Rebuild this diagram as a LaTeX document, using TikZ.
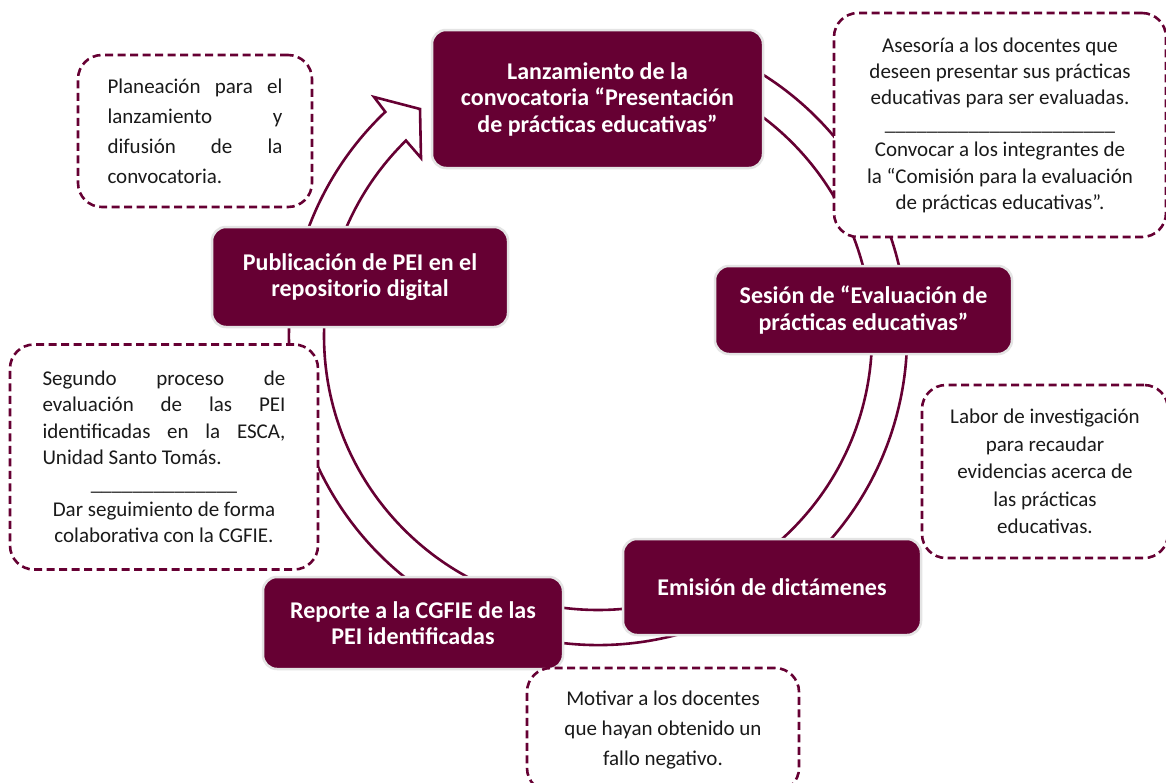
\documentclass[tikz,border=0pt]{standalone}
\usepackage{fontspec}
\setmainfont{Carlito}
\definecolor{maroon}{HTML}{660033}
\definecolor{boxedge}{HTML}{E4E4E4}
\definecolor{ink}{HTML}{1A1A1A}
\begin{document}
\begin{tikzpicture}[x=1pt,y=-1pt]
\tikzset{
  stage/.style={rectangle, rounded corners=14pt, fill=maroon, draw=boxedge, line width=2.5pt,
    text=white, font=\bfseries\fontsize{24}{26.5}\selectfont, align=center, inner sep=0pt},
  note/.style={rectangle, rounded corners=24pt, fill=white, draw=maroon, line width=2.6pt,
    dash pattern=on 8pt off 4.5pt, text=ink, inner sep=0pt},
  ringline/.style={fill=white, draw=maroon, line width=2.6pt, line join=miter},
}
\useasboundingbox (0,0) rectangle (1166,782);
\fill[white] (0,0) rectangle (1166,782);

% circular arrow
\coordinate (c) at (598,336);
\coordinate (ob) at (374,97);
\coordinate (tip) at (420,109);
\coordinate (ib) at (421,158);
\draw[ringline] ([shift={(c)}]-75:309) arc[start angle=-75, end angle=226.5, radius=309]
  -- (ob) -- (tip) -- (ib)
  -- ([shift={(c)}]225.5:274) arc[start angle=225.5, end angle=-75, radius=274] -- cycle;

% stages
\node[stage, minimum width=331pt, minimum height=138pt] (lanz) at (597.5,99)
  {Lanzamiento de la\\convocatoria “Presentación\\de prácticas educativas”};
\node[stage, minimum width=297pt, minimum height=88pt] (sesion) at (863.5,310)
  {Sesión de “Evaluación de\\prácticas educativas”};
\node[stage, minimum width=298pt, minimum height=96pt] (emision) at (772,587)
  {Emisión de dictámenes};
\node[stage, minimum width=300pt, minimum height=92pt] (reporte) at (413,623)
  {Reporte a la CGFIE de las\\PEI identificadas};
\node[stage, minimum width=296pt, minimum height=100pt] (publica) at (360,277)
  {Publicación de PEI en el\\repositorio digital};

% notes
\node[note, minimum width=234pt, minimum height=152pt, align=left,
  font=\fontsize{21}{30}\selectfont] (planea) at (195,131)
  {\makebox[175pt][s]{Planeación para el}\\
   \makebox[175pt][s]{lanzamiento y}\\
   \makebox[175pt][s]{difusión de la}\\
   convocatoria.};
\node[note, minimum width=332pt, minimum height=224pt, align=center,
  font=\fontsize{21}{26.2}\selectfont] (asesora) at (1000,125)
  {Asesoría a los docentes que\\deseen presentar sus prácticas\\educativas para ser evaluadas.\\
   \_\_\_\_\_\_\_\_\_\_\_\_\_\_\_\_\_\_\_\_\_\_\\
   Convocar a los integrantes de\\la “Comisión para la evaluación\\de prácticas educativas”.};
\node[note, minimum width=246pt, minimum height=173pt, align=center,
  font=\fontsize{21}{27.5}\selectfont] (labor) at (1045,471.5)
  {Labor de investigación\\para recaudar\\evidencias acerca de\\las prácticas\\educativas.};
\node[note, minimum width=272pt, minimum height=124pt, align=center,
  font=\fontsize{21}{30}\selectfont] (motivar) at (663,730)
  {Motivar a los docentes\\que hayan obtenido un\\fallo negativo.};
\node[note, minimum width=308pt, minimum height=225pt, align=center,
  font=\fontsize{21}{26.2}\selectfont] (segundo) at (164,457)
  {\makebox[243pt][s]{Segundo proceso de}\\
   \makebox[243pt][s]{evaluación de las PEI}\\
   \makebox[243pt][s]{identificadas en la ESCA,}\\
   \makebox[243pt][l]{Unidad Santo Tomás.}\\
   \_\_\_\_\_\_\_\_\_\_\_\_\_\_\\
   Dar seguimiento de forma\\colaborativa con la CGFIE.};
\end{tikzpicture}
\end{document}
